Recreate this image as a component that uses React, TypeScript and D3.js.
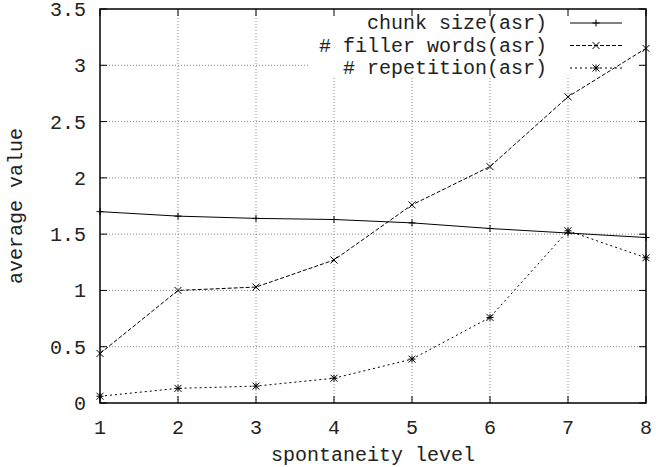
import React from "react";
import * as d3 from "d3";

const levels = [1, 2, 3, 4, 5, 6, 7, 8];
const chunkSize = [1.7, 1.66, 1.64, 1.63, 1.6, 1.55, 1.51, 1.47];
const fillerWords = [0.44, 1.0, 1.03, 1.27, 1.76, 2.1, 2.72, 3.15];
const repetition = [0.06, 0.13, 0.15, 0.22, 0.39, 0.76, 1.53, 1.29];
const yTicks = [0, 0.5, 1, 1.5, 2, 2.5, 3, 3.5];
const seriesNames = ["chunk size(asr)", "# filler words(asr)", "# repetition(asr)"];

const W = 656;
const H = 467;
const M = { left: 100, right: 10, top: 9, bottom: 64 };
const FONT = "'Liberation Mono', 'DejaVu Sans Mono', monospace";
const TXT = "#222";

function marker(kind: number, x: number, y: number, key: string) {
  const s = 3.5;
  const plus = `M${x - s},${y}H${x + s}M${x},${y - s}V${y + s}`;
  const cross = `M${x - s},${y - s}L${x + s},${y + s}M${x - s},${y + s}L${x + s},${y - s}`;
  const d = kind === 0 ? plus : kind === 1 ? cross : plus + cross;
  return <path key={key} d={d} stroke="#000" strokeWidth={1} fill="none" />;
}

export default function App() {
  const x = d3.scaleLinear().domain([1, 8]).range([M.left, W - M.right]);
  const y = d3.scaleLinear().domain([0, 3.5]).range([H - M.bottom, M.top]);
  const series = [chunkSize, fillerWords, repetition];
  const dashes = ["none", "4,2", "2,3"];
  const line = d3
    .line<number>()
    .x((_, i) => x(levels[i]))
    .y((v) => y(v));
  const x0 = M.left, x1 = W - M.right, y0 = H - M.bottom, y1 = M.top;
  const tl = 7;
  const legendRows = [23, 45.5, 68];

  return (
    <svg width={W} height={H} style={{ position: "absolute", left: 0, top: 0 }} fontFamily={FONT}>
      <rect width={W} height={H} fill="#fff" />
      {/* grid */}
      {levels.slice(1, -1).map((l) => (
        <line key={"gx" + l} x1={x(l)} x2={x(l)} y1={y0} y2={y1} stroke="#888" strokeDasharray="1,2" />
      ))}
      {yTicks.slice(1, -1).map((t) => (
        <line key={"gy" + t} x1={x0} x2={x1} y1={y(t)} y2={y(t)} stroke="#888" strokeDasharray="1,2" />
      ))}
      {/* legend box (opaque) */}
      <rect x={309} y={y1 + 1} width={332} height={68} fill="#fff" />
      {/* ticks */}
      {levels.map((l) => (
        <g key={"tx" + l}>
          <line x1={x(l)} x2={x(l)} y1={y0} y2={y0 - tl} stroke="#000" />
          <line x1={x(l)} x2={x(l)} y1={y1} y2={y1 + tl} stroke="#000" />
          <text x={x(l)} y={434} fontSize={20} textAnchor="middle" fill={TXT}>{l}</text>
        </g>
      ))}
      {yTicks.map((t) => (
        <g key={"ty" + t}>
          <line x1={x0} x2={x0 + tl} y1={y(t)} y2={y(t)} stroke="#000" />
          <line x1={x1} x2={x1 - tl} y1={y(t)} y2={y(t)} stroke="#000" />
          <text x={86} y={y(t) + 7} fontSize={20} textAnchor="end" fill={TXT}>{String(t)}</text>
        </g>
      ))}
      {/* series */}
      {series.map((s, si) => (
        <g key={"s" + si}>
          <path d={line(s) || ""} fill="none" stroke="#000" strokeWidth={1} strokeDasharray={dashes[si]} />
          {s.map((v, i) => marker(si, x(levels[i]), y(v), `m${si}-${i}`))}
        </g>
      ))}
      {/* legend */}
      {seriesNames.map((n, i) => (
        <g key={"lg" + i}>
          <text x={547} y={legendRows[i] + 6} fontSize={20} textAnchor="end" fill={TXT} style={{ whiteSpace: "pre" }}>{n}</text>
          <line x1={570} x2={622} y1={legendRows[i]} y2={legendRows[i]} stroke="#000" strokeDasharray={dashes[i]} />
          {marker(i, 596, legendRows[i], "lm" + i)}
        </g>
      ))}
      {/* border */}
      <rect x={x0} y={y1} width={x1 - x0} height={y0 - y1} fill="none" stroke="#000" strokeWidth={1.5} />
      {/* axis labels */}
      <text x={(x0 + x1) / 2} y={461} fontSize={20} textAnchor="middle" fill={TXT}>spontaneity level</text>
      <text transform={`translate(22,${(y0 + y1) / 2}) rotate(-90)`} fontSize={20} textAnchor="middle" fill={TXT}>average value</text>
    </svg>
  );
}
